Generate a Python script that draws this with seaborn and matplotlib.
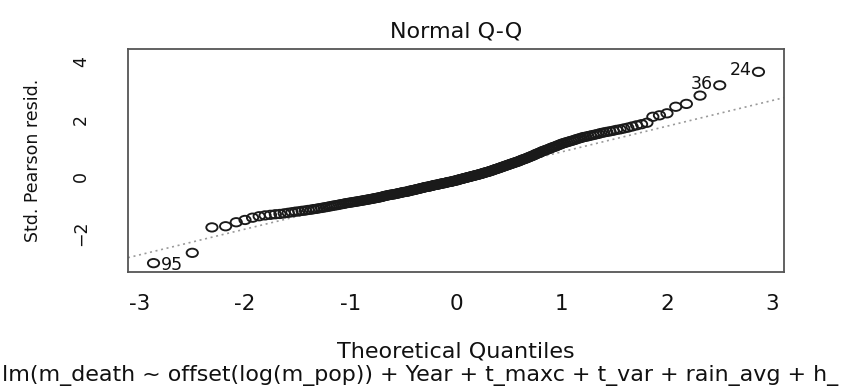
"""
Normal Q-Q plot of standardised Pearson residuals (R plot.lm style).
"""
import statistics

import matplotlib
matplotlib.use("Agg")
import matplotlib.pyplot as plt
from matplotlib.path import Path
from matplotlib.transforms import Affine2D
import numpy as np
import pandas as pd
import seaborn as sns

# Sorted standardised Pearson residuals
std_pearson_resid = [
    -3.04, -2.68, -1.79, -1.75, -1.61, -1.53, -1.45, -1.40, -1.37, -1.35,
    -1.33, -1.32, -1.30, -1.28, -1.26, -1.24, -1.23, -1.21, -1.20, -1.18,
    -1.17, -1.15, -1.14, -1.12, -1.11, -1.09, -1.08, -1.06, -1.05, -1.03,
    -1.02, -1.01, -0.99, -0.98, -0.97, -0.95, -0.94, -0.93, -0.92, -0.91,
    -0.90, -0.89, -0.88, -0.87, -0.86, -0.85, -0.84, -0.83, -0.82, -0.81,
    -0.80, -0.79, -0.78, -0.77, -0.76, -0.75, -0.74, -0.73, -0.72, -0.70,
    -0.69, -0.68, -0.67, -0.66, -0.65, -0.64, -0.64, -0.63, -0.62, -0.61,
    -0.60, -0.59, -0.58, -0.57, -0.56, -0.55, -0.55, -0.54, -0.53, -0.52,
    -0.50, -0.50, -0.49, -0.48, -0.47, -0.46, -0.45, -0.44, -0.43, -0.42,
    -0.41, -0.40, -0.39, -0.38, -0.37, -0.37, -0.36, -0.35, -0.34, -0.33,
    -0.32, -0.31, -0.30, -0.30, -0.29, -0.28, -0.27, -0.26, -0.25, -0.25,
    -0.24, -0.23, -0.22, -0.21, -0.20, -0.20, -0.19, -0.18, -0.17, -0.16, -0.15,
    -0.15, -0.13, -0.12, -0.11, -0.10, -0.09, -0.08, -0.07, -0.06, -0.05, -0.04,
    -0.03, -0.02, -0.01, 0.00, 0.01, 0.02, 0.03, 0.04, 0.05, 0.06,
    0.07, 0.08, 0.09, 0.11, 0.12, 0.13, 0.14, 0.15, 0.16, 0.18,
    0.19, 0.20, 0.22, 0.23, 0.25, 0.26, 0.27, 0.29, 0.30, 0.32,
    0.33, 0.35, 0.36, 0.38, 0.39, 0.41, 0.42, 0.44, 0.45, 0.47,
    0.48, 0.50, 0.51, 0.53, 0.55, 0.57, 0.59, 0.60, 0.62, 0.64,
    0.66, 0.68, 0.70, 0.72, 0.74, 0.77, 0.79, 0.81, 0.83, 0.86,
    0.88, 0.90, 0.92, 0.94, 0.96, 0.99, 1.01, 1.03, 1.05, 1.08,
    1.10, 1.13, 1.15, 1.17, 1.19, 1.21, 1.23, 1.25, 1.27, 1.30,
    1.32, 1.34, 1.37, 1.38, 1.40, 1.42, 1.44, 1.46, 1.48, 1.51,
    1.53, 1.55, 1.57, 1.59, 1.62, 1.64, 1.67, 1.70, 1.74, 1.78,
    1.82, 1.87, 2.08, 2.13, 2.20, 2.43, 2.53, 2.82, 3.18, 3.65,
]

# Observation ids flagged by plot.lm and their rank in the sorted residuals
flagged_ids = ["95", "36", "24"]
flagged_rank = [0, 240, 241]

# qqline through the quartiles
ref_intercept = -0.05
ref_slope = 0.90

x_ticks = [-3, -2, -1, 0, 1, 2, 3]
y_ticks = [-2, 0, 2, 4]

title = "Normal Q-Q"
x_label = "Theoretical Quantiles"
y_label = "Std. Pearson resid."
sub_caption = "lm(m_death ~ offset(log(m_pop)) + Year + t_maxc + t_var + rain_avg + h_"

# Theoretical quantiles as R's qqnorm does it (ppoints)
n = len(std_pearson_resid)
nd = statistics.NormalDist()
df = pd.DataFrame({
    "theoretical": [nd.inv_cdf((k + 0.5) / n) for k in range(n)],
    "resid": std_pearson_resid,
})

# the source picture is stretched sideways, so the circles are ovals
oval = Path.unit_circle().transformed(Affine2D().scale(1.35, 1.0))

sns.set_style("white")
plt.rcParams["font.family"] = ["DejaVu Sans"]

fig = plt.figure(figsize=(8.5, 3.9), dpi=100)
ax = fig.add_axes([128 / 850, 1 - 272 / 390, 656 / 850, 223 / 390])

ax.axline((0, ref_intercept), slope=ref_slope, color="#9a9a9a",
          linestyle=(0, (1.2, 2.2)), linewidth=1.2, zorder=1)
sns.scatterplot(data=df, x="theoretical", y="resid", ax=ax, marker=oval,
                s=66, facecolors="none", edgecolor="#1a1a1a", linewidth=1.35,
                zorder=2, legend=False)

for lab, rank in zip(flagged_ids, flagged_rank):
    px = df["theoretical"].iloc[rank]
    py = df["resid"].iloc[rank]
    if px < 0:
        ax.annotate(lab, (px, py), xytext=(5, -1), textcoords="offset points",
                    ha="left", va="center", fontsize=12.5, color="#111111")
    else:
        ax.annotate(lab, (px, py), xytext=(-5, 1), textcoords="offset points",
                    ha="right", va="center", fontsize=12.5, color="#111111")

ax.set_xlim(-3.11, 3.11)
ax.set_ylim(-3.35, 4.45)
ax.set_xticks(x_ticks)
ax.set_yticks(y_ticks)
ax.set_xticklabels([str(v) for v in x_ticks])
ax.set_yticklabels(["\u22122" if v < 0 else str(v) for v in y_ticks],
                   rotation=90, va="center")
ax.set_xlabel("")
ax.set_ylabel("")

for spine in ax.spines.values():
    spine.set_color("#555555")
    spine.set_linewidth(1.3)
ax.tick_params(axis="both", direction="out", width=1.3,
               color="#555555", labelcolor="#111111")
ax.tick_params(axis="x", length=8.3, pad=7.5, labelsize=15.5)
ax.tick_params(axis="y", length=10.8, pad=16.5, labelsize=12.5)

fig.text(456 / 850, 1 - 32 / 390, title, ha="center", va="center",
         fontsize=16, color="#111111")
fig.text(456 / 850, 1 - 352 / 390, x_label, ha="center", va="center",
         fontsize=16, color="#111111")
fig.text(33 / 850, 1 - 160 / 390, y_label, ha="center", va="center",
         rotation=90, fontsize=12.5, color="#111111")
fig.text(2 / 850, 1 - 376 / 390, sub_caption, ha="left", va="center",
         fontsize=15.9, color="#111111")

fig.savefig("out.png", dpi=100, facecolor="white")
